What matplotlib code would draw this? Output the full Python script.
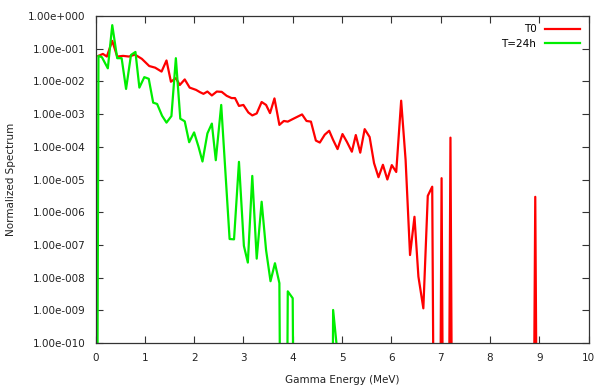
import numpy as np
import matplotlib
matplotlib.use("Agg")
import matplotlib.pyplot as plt
from matplotlib.ticker import FixedLocator, FuncFormatter

ZERO = 1e-30  # empty bins (drawn off the bottom of the log axis)

# T0 spectrum (energy in MeV, value as log10)
t0_energy = [0.06, 0.15, 0.23, 0.34, 0.44, 0.56, 0.68, 0.80, 0.94, 1.09,
             1.21, 1.34, 1.44, 1.53, 1.63, 1.71, 1.81, 1.91, 2.04, 2.12,
             2.19, 2.27, 2.36, 2.46, 2.56, 2.66, 2.76, 2.83, 2.91, 3.00,
             3.10, 3.18, 3.27, 3.37, 3.46, 3.54, 3.63, 3.73, 3.82, 3.90,
             3.99, 4.19, 4.28, 4.37, 4.47, 4.55, 4.65, 4.74, 4.82, 4.91,
             5.01, 5.10, 5.20, 5.28, 5.37, 5.46, 5.56, 5.65, 5.74, 5.83,
             5.92, 6.01, 6.10, 6.20, 6.29, 6.38, 6.47, 6.55, 6.65, 6.74,
             6.83, 6.93, 7.02, 7.11, 7.20, 7.29, 8.82, 8.92, 9.02, 10.0]
t0_log = [-1.22, -1.16, -1.24, -0.76, -1.24, -1.22, -1.24, -1.18, -1.31, -1.53,
          -1.58, -1.70, -1.36, -2.01, -1.90, -2.11, -1.94, -2.19, -2.26, -2.33,
          -2.38, -2.31, -2.43, -2.31, -2.32, -2.44, -2.51, -2.51, -2.75, -2.72,
          -2.95, -3.04, -2.98, -2.63, -2.72, -2.97, -2.52, -3.33, -3.21, -3.23,
          -3.16, -3.01, -3.21, -3.23, -3.81, -3.87, -3.63, -3.51, -3.79, -4.07,
          -3.61, -3.85, -4.15, -3.64, -4.18, -3.46, -3.70, -4.50, -4.93, -4.55,
          -5.00, -4.56, -4.77, -2.59, -4.40, -7.31, -6.14, -7.97, -8.94, -5.50,
          -5.22, None, -4.96, None, -3.72, None, None, -5.53, None, None]

# T=24h spectrum
t24_energy = [0.00, 0.06, 0.13, 0.25, 0.34, 0.44, 0.53, 0.62, 0.72, 0.81,
              0.89, 0.99, 1.08, 1.17, 1.25, 1.35, 1.44, 1.54, 1.63, 1.72,
              1.81, 1.90, 2.00, 2.09, 2.17, 2.27, 2.36, 2.44, 2.55, 2.72,
              2.81, 2.91, 3.01, 3.09, 3.18, 3.27, 3.37, 3.46, 3.55, 3.64,
              3.73, 3.82, 3.90, 4.00, 4.09, 4.74, 4.82, 4.92]
t24_log = [None, -1.22, -1.26, -1.60, -0.28, -1.29, -1.29, -2.23, -1.19, -1.10,
           -2.19, -1.87, -1.92, -2.65, -2.69, -3.05, -3.26, -3.06, -1.29, -3.14,
           -3.22, -3.86, -3.56, -4.00, -4.45, -3.59, -3.29, -4.41, -2.72, -6.82,
           -6.83, -4.46, -7.03, -7.54, -4.89, -7.42, -5.68, -7.16, -8.11, -7.56,
           -8.17, None, -8.42, -8.63, None, None, -8.99, -10.5]

series_labels = ["T0", "T=24h"]
x_ticks = list(range(0, 11))
y_exponents = list(range(-10, 1))

def to_values(logs):
    return np.array([ZERO if v is None else 10.0 ** v for v in logs])

fig = plt.figure(figsize=(5.98, 3.92), dpi=100)
ax = fig.add_axes([95.5 / 598, 1 - 343 / 392, (588.5 - 95.5) / 598, (343 - 16) / 392])

ax.plot(t0_energy, to_values(t0_log), color="#ff0000", lw=1.6, label=series_labels[0])
ax.plot(t24_energy, to_values(t24_log), color="#00ee00", lw=1.6, label=series_labels[1])

ax.set_yscale("log")
ax.set_xlim(0, 10)
ax.set_ylim(1e-10, 1e0)
ax.xaxis.set_major_locator(FixedLocator(x_ticks))
ax.yaxis.set_major_locator(FixedLocator([10.0 ** e for e in y_exponents]))
ax.yaxis.set_minor_locator(FixedLocator([]))

def yfmt(v, pos):
    e = int(round(np.log10(v)))
    sign = "+" if e >= 0 else "-"
    return "1.00e%s%03d" % (sign, abs(e))

ax.yaxis.set_major_formatter(FuncFormatter(yfmt))
ax.tick_params(which="both", direction="in", top=True, right=True,
               length=5, width=0.8, colors="#333333", labelcolor="#222222",
               labelsize=7.5, pad=7)
for s in ax.spines.values():
    s.set_color("#333333")
    s.set_linewidth(0.9)

ax.set_xlabel("Gamma Energy (MeV)", fontsize=7.5, color="#222222", labelpad=9)
ax.set_ylabel("Normalized Spectrum", fontsize=7.5, color="#222222", labelpad=9)

leg = ax.legend(loc="upper right", frameon=False, markerfirst=False,
                fontsize=7.5, handlelength=3.4, handletextpad=0.8,
                labelspacing=0.45, borderaxespad=0.4)

fig.savefig("out.png", dpi=100)
